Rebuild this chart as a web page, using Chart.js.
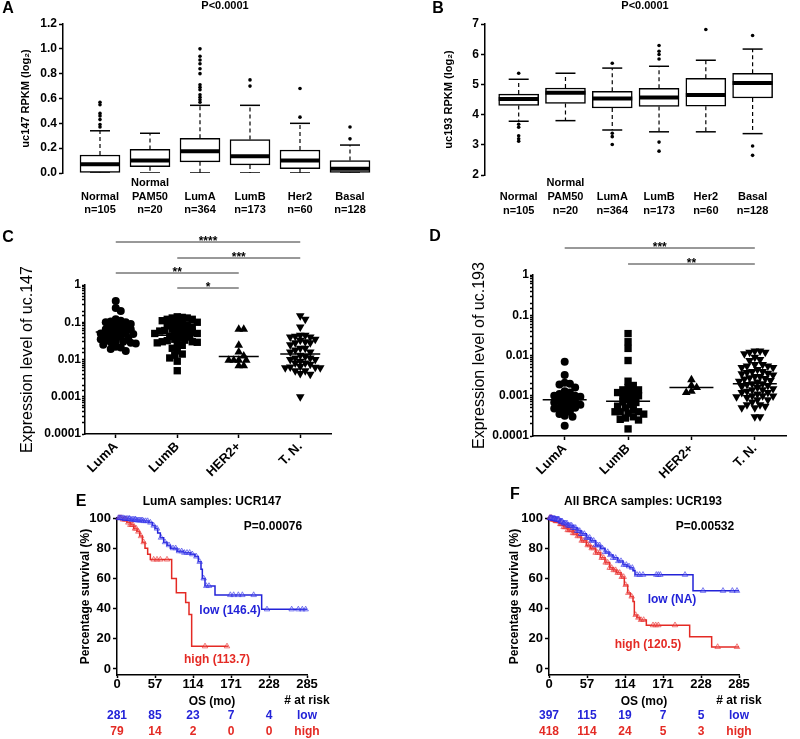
<!DOCTYPE html>
<html>
<head>
<meta charset="utf-8">
<script src="https://cdn.jsdelivr.net/npm/chart.js@4.4.1/dist/chart.umd.min.js"></script>
<style>
body { margin: 0; background: #fff; overflow: hidden; }
#fig { position: relative; width: 800px; height: 739px; overflow: hidden; background: #fff; }
#fig canvas { position: absolute; }
</style>
</head>
<body>
<div id="fig">
<canvas id="cA" width="400" height="240" style="left:0;top:0"></canvas>
<canvas id="cB" width="400" height="240" style="left:400px;top:0"></canvas>
<canvas id="cC" width="400" height="252" style="left:0;top:228px"></canvas>
<canvas id="cD" width="410" height="252" style="left:400px;top:228px"></canvas>
<canvas id="cE" width="400" height="259" style="left:0;top:480px"></canvas>
<canvas id="cF" width="400" height="259" style="left:400px;top:480px"></canvas>
</div>
<script>
// ---- values ----
var boxCats = ['Normal', 'Normal PAM50', 'LumA', 'LumB', 'Her2', 'Basal'];
var boxN = [105, 20, 364, 173, 60, 128];

// A: uc147 RPKM
var aLow = [0, 0, 0, 0, 0, 0];
var aQ1 = [0.005, 0.05, 0.09, 0.065, 0.035, 0.005];
var aMed = [0.07, 0.10, 0.175, 0.135, 0.10, 0.035];
var aQ3 = [0.145, 0.19, 0.28, 0.27, 0.185, 0.10];
var aHigh = [0.34, 0.32, 0.545, 0.545, 0.40, 0.225];
var aOut = [
    [0.37, 0.39, 0.43, 0.46, 0.48, 0.55, 0.57],
    [],
    [0.57, 0.59, 0.61, 0.63, 0.67, 0.69, 0.71, 0.80, 0.84, 0.88, 0.91, 0.94, 1.0],
    [0.70, 0.75],
    [0.45, 0.68],
    [0.275, 0.37]
];

// B: uc193 RPKM
var bLow = [3.78, 3.80, 3.49, 3.43, 3.43, 3.37];
var bQ1 = [4.30, 4.37, 4.22, 4.27, 4.28, 4.55];
var bMed = [4.52, 4.72, 4.53, 4.57, 4.65, 5.05];
var bQ3 = [4.68, 4.88, 4.77, 4.87, 5.20, 5.37];
var bHigh = [5.17, 5.37, 5.54, 5.60, 5.80, 6.17];
var bOut = [
    [5.37, 3.68, 3.58, 3.30, 3.20, 3.12],
    [],
    [5.70, 3.38, 3.27, 3.01],
    [6.29, 6.10, 5.99, 5.84, 3.09, 2.79],
    [6.82],
    [6.62, 2.96, 2.65]
];

// C / D: expression levels per subtype
var dotCats = ['LumA', 'LumB', 'HER2+', 'T. N.'];
var cLumA = [0.37, 0.24, 0.20, 0.12, 0.11, 0.105, 0.10, 0.10, 0.09, 0.085, 0.08, 0.075, 0.07, 0.065, 0.065,
    0.06, 0.058, 0.055, 0.05, 0.05, 0.048, 0.045, 0.042, 0.04, 0.04, 0.038, 0.035, 0.033, 0.03, 0.03,
    0.029, 0.028, 0.027, 0.025, 0.022, 0.021, 0.019, 0.017];
var cLumB = [0.14, 0.135, 0.13, 0.13, 0.12, 0.12, 0.11, 0.10, 0.10, 0.095, 0.09, 0.085, 0.08, 0.075, 0.07,
    0.068, 0.065, 0.06, 0.06, 0.058, 0.055, 0.052, 0.05, 0.05, 0.048, 0.045, 0.042, 0.04, 0.038, 0.035,
    0.033, 0.032, 0.03, 0.03, 0.029, 0.028, 0.025, 0.024, 0.02, 0.017, 0.014, 0.013, 0.011, 0.009, 0.005];
var cHer2 = [0.065, 0.065, 0.024, 0.016, 0.0125, 0.0095, 0.0095, 0.0095, 0.0095, 0.0068, 0.0068];
var cTn = [0.15, 0.12, 0.075, 0.045, 0.045, 0.042, 0.04, 0.04, 0.035, 0.033, 0.03, 0.028, 0.028, 0.025,
    0.02, 0.02, 0.018, 0.016, 0.016, 0.013, 0.012, 0.011, 0.011, 0.01, 0.01, 0.009, 0.008, 0.008, 0.0075,
    0.0065, 0.0063, 0.0062, 0.006, 0.006, 0.005, 0.005, 0.0042, 0.004, 0.001];
var cMean = [0.055, 0.045, 0.012, 0.014];

var dLumA = [0.007, 0.0033, 0.0021, 0.002, 0.0019, 0.0016, 0.0013, 0.0012, 0.0011, 0.001, 0.001, 0.00095,
    0.0009, 0.0008, 0.00075, 0.0007, 0.00068, 0.00065, 0.0006, 0.00055, 0.0005, 0.0005, 0.00048, 0.00045,
    0.0004, 0.00035, 0.00032, 0.0003, 0.00018];
var dLumB = [0.035, 0.022, 0.015, 0.0075, 0.0023, 0.0018, 0.0016, 0.0014, 0.0014, 0.0013, 0.0012, 0.0011,
    0.001, 0.001, 0.0009, 0.0008, 0.0007, 0.00068, 0.0006, 0.00055, 0.0005, 0.00045, 0.0004, 0.0004, 0.0004,
    0.00037, 0.00035, 0.0003, 0.00028, 0.00026, 0.00025, 0.00015];
var dHer2 = [0.0025, 0.0018, 0.0016, 0.0013, 0.0012];
var dTn = [0.013, 0.013, 0.012, 0.012, 0.011, 0.009, 0.008, 0.0075, 0.006, 0.006, 0.0055, 0.0055, 0.005,
    0.005, 0.0045, 0.004, 0.004, 0.0038, 0.0036, 0.0035, 0.0033, 0.003, 0.003, 0.0028, 0.0027, 0.0026,
    0.0024, 0.0023, 0.0022, 0.002, 0.002, 0.0019, 0.0018, 0.0017, 0.0016, 0.0015, 0.0014, 0.0014, 0.0013,
    0.0012, 0.0012, 0.0011, 0.001, 0.001, 0.00098, 0.00095, 0.0009, 0.0008, 0.0008, 0.0007, 0.0006, 0.0006,
    0.00055, 0.0005, 0.0005, 0.0003, 0.0003];
var dMean = [0.0008, 0.00073, 0.0016, 0.002];

// E / F: Kaplan-Meier steps (months, % surviving) and censor times
var kmTicks = [0, 57, 114, 171, 228, 285];
var riskTimes = [0, 57, 114, 171, 228];

var eLowT = [0, 10, 20, 30, 40, 48, 53, 57, 61, 65, 70, 75, 80, 90, 100, 110, 117, 122, 126, 128, 132, 147, 217, 285];
var eLowS = [100, 99.5, 99, 98.5, 98, 97, 95, 93, 90, 87, 84, 82, 80, 78, 77, 76, 74.5, 71, 66, 60, 55, 49, 39.5, 39.5];
var eHighT = [0, 8, 15, 20, 25, 30, 34, 38, 42, 46, 50, 82, 89, 103, 108, 112, 167];
var eHighS = [100, 99, 97, 95.5, 93, 91, 88, 84, 80, 76, 72.5, 60, 50.5, 44, 36, 15, 15];
var eLowC = [2, 4, 5, 7, 9, 11, 12, 14, 16, 18, 19, 21, 23, 25, 27, 28, 30, 32, 34, 36, 38, 40, 43, 46, 50, 55,
    60, 66, 72, 78, 84, 88, 93, 97, 101, 105, 109, 113, 119, 124, 130, 134, 138, 170, 175, 182, 188, 205, 225,
    262, 272, 278, 283];
var eHighC = [3, 6, 9, 12, 14, 17, 20, 22, 24, 27, 29, 32, 36, 40, 55, 60, 65, 75, 132, 165];
var eRiskLow = [281, 85, 23, 7, 4];
var eRiskHigh = [79, 14, 2, 0, 0];

var fLowT = [0, 5, 10, 16, 22, 28, 36, 42, 48, 56, 62, 70, 77, 84, 90, 96, 103, 111, 117, 121, 126, 129, 216, 285];
var fLowS = [100, 99.5, 99, 97.7, 96.5, 95, 93.5, 91.5, 89.5, 87, 85, 82, 80, 77.5, 75.5, 73.6, 71.5, 69, 68, 67, 65, 62.4, 51.8, 51.8];
var fHighT = [0, 5, 10, 16, 22, 28, 36, 42, 48, 56, 62, 70, 77, 84, 91, 96, 101, 108, 113, 118, 122, 126, 128, 132, 136, 146, 211, 244, 285];
var fHighS = [100, 99, 98, 96, 94, 92, 90, 88, 85, 82, 80, 77, 73.6, 70.5, 67, 65.5, 63.7, 61, 55.7, 50.4, 48, 44.7, 35.8, 34, 32.5, 29, 21.4, 14.6, 14.6];
var fLowC = [1, 2, 3, 4, 5, 6, 7, 8, 9, 10, 11, 12, 13, 14, 15, 17, 18, 19, 20, 22, 23, 25, 27, 28, 30, 32, 34,
    36, 38, 40, 42, 44, 46, 48, 50, 53, 56, 58, 61, 64, 67, 70, 73, 76, 80, 84, 88, 92, 96, 100, 104, 108, 112,
    116, 120, 125, 132, 136, 141, 161, 164, 167, 204, 231, 261, 275, 282];
var fHighC = [1, 2, 3, 4, 5, 6, 7, 8, 9, 10, 11, 12, 14, 15, 17, 18, 20, 22, 24, 26, 28, 30, 32, 34, 36, 38, 40,
    43, 46, 49, 52, 55, 58, 61, 64, 67, 70, 73, 76, 79, 82, 85, 88, 91, 94, 97, 100, 103, 106, 109, 112, 115,
    119, 124, 130, 134, 138, 142, 156, 160, 164, 189, 253, 282];
var fRiskLow = [397, 115, 19, 7, 5];
var fRiskHigh = [418, 114, 24, 5, 3];

// ---- drawing ----
Chart.defaults.font.family = 'Arial, "Liberation Sans", sans-serif';
Chart.defaults.color = '#000';
var FAM = Chart.defaults.font.family;
var BLUE = '#2323d8';
var RED = '#e42a24';

var notes = {
    id: 'notes',
    afterDraw: function (chart, args, o) {
        var ctx = chart.ctx;
        (o.items || []).forEach(function (n) {
            ctx.save();
            ctx.font = (n.weight || 'bold') + ' ' + (n.size || 12) + 'px ' + FAM;
            ctx.fillStyle = n.color || '#000';
            ctx.textAlign = n.align || 'center';
            ctx.textBaseline = 'middle';
            ctx.fillText(n.text, n.x, n.y);
            ctx.restore();
        });
    }
};

var brackets = {
    id: 'brackets',
    afterDraw: function (chart, args, o) {
        var ctx = chart.ctx, xs = chart.scales.x;
        (o.items || []).forEach(function (b) {
            var x1 = xs.getPixelForValue(b.from), x2 = xs.getPixelForValue(b.to);
            ctx.save();
            ctx.strokeStyle = '#333';
            ctx.lineWidth = 1;
            ctx.beginPath();
            ctx.moveTo(x1, b.y);
            ctx.lineTo(x2, b.y);
            ctx.stroke();
            ctx.font = 'bold 12px ' + FAM;
            ctx.fillStyle = '#000';
            ctx.textAlign = 'center';
            ctx.textBaseline = 'alphabetic';
            ctx.fillText(b.label, (x1 + x2) / 2, b.y + 3);
            ctx.restore();
        });
    }
};

var riskTable = {
    id: 'risk',
    afterDraw: function (chart, args, o) {
        var ctx = chart.ctx, xs = chart.scales.x;
        ctx.save();
        ctx.font = 'bold 12px ' + FAM;
        ctx.textAlign = 'center';
        ctx.textBaseline = 'middle';
        ctx.fillStyle = '#000';
        ctx.fillText('# at risk', xs.getPixelForValue(o.labelAt), o.headY);
        o.rows.forEach(function (r) {
            ctx.fillStyle = r.color;
            o.times.forEach(function (t, i) {
                ctx.fillText(String(r.values[i]), xs.getPixelForValue(t), r.y);
            });
            ctx.fillText(r.label, xs.getPixelForValue(o.labelAt), r.y);
        });
        ctx.restore();
    }
};

function axisGrid(len) {
    return { display: true, drawOnChartArea: false, drawTicks: true, tickLength: len, tickColor: '#000', tickWidth: 1.5 };
}

function boxChart(id, d) {
    var whisk = [], caps = [], meds = [], outs = [], boxes = [];
    d.cats.forEach(function (c, i) {
        var x = i + 1;
        boxes.push({ x: x, y: [d.q1[i], d.q3[i]] });
        meds.push({ x: x, y: d.med[i] });
        caps.push({ x: x, y: d.high[i] }, { x: x, y: d.low[i] });
        whisk.push({ x: x, y: d.q3[i] }, { x: x, y: d.high[i] }, { x: x, y: null },
            { x: x, y: d.q1[i] }, { x: x, y: d.low[i] }, { x: x, y: null });
        d.out[i].forEach(function (v) { outs.push({ x: x, y: v }); });
    });
    return new Chart(document.getElementById(id), {
        type: 'bar',
        data: {
            datasets: [
                { type: 'scatter', data: meds, pointStyle: 'line', pointRadius: 20, pointBorderWidth: 4, pointBorderColor: '#000', order: 0 },
                { type: 'scatter', data: caps, pointStyle: 'line', pointRadius: 10, pointBorderWidth: 1.5, pointBorderColor: '#000', order: 1 },
                { type: 'scatter', data: outs, pointRadius: 1.8, pointBackgroundColor: '#000', pointBorderWidth: 0, order: 1 },
                { type: 'bar', data: boxes, backgroundColor: '#fff', borderColor: '#000', borderWidth: 1.5, borderSkipped: false, barThickness: 40, order: 2 },
                { type: 'line', data: whisk, borderColor: '#000', borderWidth: 1.2, borderDash: [4, 3], pointRadius: 0, spanGaps: false, order: 3 }
            ]
        },
        plugins: [notes],
        options: {
            responsive: false,
            animation: false,
            events: [],
            layout: { padding: d.pad },
            plugins: { legend: { display: false }, tooltip: { enabled: false }, notes: { items: d.notes } },
            scales: {
                x: {
                    type: 'linear', min: d.xMin, max: 6.5, offset: false,
                    afterBuildTicks: function (s) { s.ticks = d.cats.map(function (c, i) { return { value: i + 1 }; }); },
                    afterFit: function (s) { s.height = d.xH; },
                    grid: { display: false, drawTicks: false },
                    border: { display: false },
                    ticks: {
                        autoSkip: false, maxRotation: 0, padding: d.labPad,
                        font: { size: 11, weight: 'bold', lineHeight: 1.25 },
                        callback: function (v) {
                            var i = Math.round(v) - 1, w = d.cats[i].split(' ');
                            if (w.length < 2) w.unshift('');
                            return w.concat(['n=' + d.n[i]]);
                        }
                    }
                },
                y: {
                    min: d.yMin, max: d.yMax,
                    afterFit: function (s) { s.width = d.yW; },
                    ticks: { stepSize: d.step, padding: 2, font: { size: 12, weight: 'bold' },
                        callback: function (v) { return v.toFixed(d.dec); } },
                    grid: axisGrid(4),
                    border: { color: '#000', width: 1.5 },
                    title: { display: true, text: d.yTitle, font: { size: 11, weight: 'bold' }, padding: { top: d.titlePad } }
                }
            }
        }
    });
}

// simple beeswarm: place each point at the nearest free horizontal offset
function swarm(vals, center, pxX, pxDec, dia) {
    var idx = vals.map(function (v, i) { return i; }).sort(function (a, b) { return vals[b] - vals[a]; });
    var placed = [], out = [];
    idx.forEach(function (i) {
        var py = Math.log10(vals[i]) * pxDec, dx = 0;
        for (var k = 0; k < 60; k++) {
            dx = (k % 2 ? 1 : -1) * Math.ceil(k / 2) * dia / 2;
            var hit = placed.some(function (p) {
                var a = p.dx - dx, b = p.py - py;
                return a * a + b * b < dia * dia;
            });
            if (!hit) break;
        }
        placed.push({ dx: dx, py: py });
        out.push({ x: center + dx / pxX, y: vals[i] });
    });
    return out;
}

function logLabel(v) {
    var e = Math.log10(v);
    return Math.abs(e - Math.round(e)) < 1e-6 ? String(Number(v.toPrecision(1))) : '';
}

function dotChart(id, d) {
    var styles = [
        { s: 'circle', r: 4, rot: 0 },
        { s: 'rect', r: 5.2, rot: 0 },
        { s: 'triangle', r: 5, rot: 0 },
        { s: 'triangle', r: 5, rot: 180 }
    ];
    var sets = d.groups.map(function (g, i) {
        return {
            type: 'scatter', data: swarm(g, i + 1, d.pxX, d.pxDec, d.dia),
            pointStyle: styles[i].s, pointRadius: styles[i].r, pointRotation: styles[i].rot,
            pointBackgroundColor: '#000', pointBorderWidth: 0, order: 1, clip: false
        };
    });
    sets.unshift({
        type: 'scatter', data: d.mean.map(function (m, i) { return { x: i + 1, y: m }; }),
        pointStyle: 'line', pointRadius: d.meanR, pointBorderWidth: 1.5, pointBorderColor: '#000', order: 0
    });
    return new Chart(document.getElementById(id), {
        type: 'scatter',
        data: { datasets: sets },
        plugins: [notes, brackets],
        options: {
            responsive: false,
            animation: false,
            events: [],
            layout: { padding: d.pad },
            plugins: { legend: { display: false }, tooltip: { enabled: false },
                notes: { items: d.notes }, brackets: { items: d.brackets } },
            scales: {
                x: {
                    type: 'linear', min: 0.5, max: 4.5,
                    afterBuildTicks: function (s) { s.ticks = dotCats.map(function (c, i) { return { value: i + 1 }; }); },
                    afterFit: function (s) { s.height = d.xH; },
                    grid: axisGrid(4),
                    border: { color: '#000', width: 1.5 },
                    ticks: { autoSkip: false, minRotation: 45, maxRotation: 45, padding: 1,
                        font: { size: 13, weight: 'bold' },
                        callback: function (v) { return dotCats[Math.round(v) - 1]; } }
                },
                y: {
                    type: 'logarithmic', min: 0.0001, max: 1,
                    afterFit: function (s) { s.width = d.yW; },
                    grid: axisGrid(3),
                    border: { color: '#000', width: 1.5 },
                    ticks: { autoSkip: false, padding: 1, font: { size: 12, weight: 'bold' }, callback: logLabel },
                    title: { display: true, text: d.yTitle, font: { size: 16, weight: 'normal' }, padding: { top: d.titlePad } }
                }
            }
        }
    });
}

function survAt(ts, ss, t) {
    var s = ss[0];
    for (var i = 0; i < ts.length; i++) if (ts[i] <= t) s = ss[i];
    return s;
}

function kmChart(id, d) {
    function steps(ts, ss) { return ts.map(function (t, i) { return { x: t, y: ss[i] }; }); }
    function cens(cs, ts, ss) { return cs.map(function (t) { return { x: t, y: survAt(ts, ss, t) }; }); }
    return new Chart(document.getElementById(id), {
        type: 'line',
        data: {
            datasets: [
                { data: cens(d.lowC, d.lowT, d.lowS), type: 'scatter', pointStyle: 'triangle', pointRadius: 3.2,
                    pointBorderColor: 'rgba(40,40,230,0.55)', pointBackgroundColor: 'rgba(140,140,255,0.25)', pointBorderWidth: 1, clip: false, order: 0 },
                { data: cens(d.highC, d.highT, d.highS), type: 'scatter', pointStyle: 'triangle', pointRadius: 3.2,
                    pointBorderColor: 'rgba(230,40,40,0.55)', pointBackgroundColor: 'rgba(255,140,140,0.25)', pointBorderWidth: 1, clip: false, order: 0 },
                { data: steps(d.lowT, d.lowS), stepped: true, borderColor: BLUE, borderWidth: 1.5, pointRadius: 0, clip: false, order: 1 },
                { data: steps(d.highT, d.highS), stepped: true, borderColor: RED, borderWidth: 1.5, pointRadius: 0, clip: false, order: 1 }
            ]
        },
        plugins: [notes, riskTable],
        options: {
            responsive: false,
            animation: false,
            events: [],
            layout: { padding: d.pad },
            plugins: {
                legend: { display: false }, tooltip: { enabled: false },
                notes: { items: d.notes },
                risk: {
                    times: riskTimes, labelAt: 285, headY: 221,
                    rows: [
                        { values: d.riskLow, label: 'low', color: BLUE, y: 236 },
                        { values: d.riskHigh, label: 'high', color: RED, y: 252 }
                    ]
                }
            },
            scales: {
                x: {
                    type: 'linear', min: 0, max: 285,
                    afterBuildTicks: function (s) { s.ticks = kmTicks.map(function (v) { return { value: v }; }); },
                    afterFit: function (s) { s.height = 64; },
                    grid: axisGrid(3),
                    border: { color: '#000', width: 1.5 },
                    ticks: { autoSkip: false, maxRotation: 0, padding: 0, font: { size: 13, weight: 'bold', lineHeight: 1 } },
                    title: { display: true, text: 'OS (mo)', font: { size: 12, weight: 'bold' }, padding: { top: 0, bottom: 30 } }
                },
                y: {
                    min: -4, max: 100,
                    afterBuildTicks: function (s) { s.ticks = [0, 20, 40, 60, 80, 100].map(function (v) { return { value: v }; }); },
                    afterFit: function (s) { s.width = d.yW; },
                    grid: axisGrid(4),
                    border: { color: '#000', width: 1.5 },
                    ticks: { padding: 2, font: { size: 13, weight: 'bold' } },
                    title: { display: true, text: 'Percentage survival (%)', font: { size: 12, weight: 'bold' }, padding: { top: d.titlePad } }
                }
            }
        }
    });
}

boxChart('cA', {
    cats: boxCats, n: boxN, low: aLow, q1: aQ1, med: aMed, q3: aQ3, high: aHigh, out: aOut,
    yMin: 0, yMax: 1.2, step: 0.2, dec: 1, xMin: 0.26,
    pad: { left: 0, top: 21, right: 25, bottom: 0 }, yW: 63, xH: 67, labPad: 3, titlePad: 19,
    yTitle: 'uc147 RPKM (log\u2082)',
    notes: [{ text: 'A', x: 8, y: 9, size: 16 }, { text: 'P<0.0001', x: 225, y: 6, size: 11 }]
});

boxChart('cB', {
    cats: boxCats, n: boxN, low: bLow, q1: bQ1, med: bMed, q3: bQ3, high: bHigh, out: bOut,
    yMin: 2, yMax: 7, step: 1, dec: 0, xMin: 0.28,
    pad: { left: 0, top: 22, right: 5, bottom: 0 }, yW: 85, xH: 65, labPad: 1.5, titlePad: 42,
    yTitle: 'uc193 RPKM (log\u2082)',
    notes: [{ text: 'B', x: 38, y: 9, size: 16 }, { text: 'P<0.0001', x: 245, y: 6, size: 11 }]
});

dotChart('cC', {
    groups: [cLumA, cLumB, cHer2, cTn], mean: cMean, meanR: 20,
    pxX: 61.5, pxDec: 37.25, dia: 5,
    pad: { left: 0, top: 57, right: 69, bottom: 0 }, yW: 85, xH: 46, titlePad: 18,
    yTitle: 'Expression level of uc.147',
    notes: [{ text: 'C', x: 8, y: 10, size: 16 }],
    brackets: [
        { from: 1, to: 4, label: '****', y: 14 },
        { from: 2, to: 4, label: '***', y: 30 },
        { from: 1, to: 3, label: '**', y: 45 },
        { from: 2, to: 3, label: '*', y: 60 }
    ]
});

dotChart('cD', {
    groups: [dLumA, dLumB, dHer2, dTn], mean: dMean, meanR: 22,
    pxX: 66.75, pxDec: 40.25, dia: 5.5,
    pad: { left: 0, top: 47, right: 10, bottom: 0 }, yW: 133, xH: 44, titlePad: 70,
    yTitle: 'Expression level of uc.193',
    notes: [{ text: 'D', x: 35, y: 9, size: 16 }],
    brackets: [
        { from: 1, to: 4, label: '***', y: 20 },
        { from: 2, to: 4, label: '**', y: 36 }
    ]
});

kmChart('cE', {
    lowT: eLowT, lowS: eLowS, highT: eHighT, highS: eHighS, lowC: eLowC, highC: eHighC,
    riskLow: eRiskLow, riskHigh: eRiskHigh,
    pad: { left: 0, top: 38, right: 93, bottom: 0 }, yW: 117, titlePad: 78,
    notes: [
        { text: 'E', x: 81, y: 22, size: 16 },
        { text: 'LumA samples: UCR147', x: 212, y: 22 },
        { text: 'P=0.00076', x: 273, y: 47 },
        { text: 'low (146.4)', x: 230, y: 131, color: BLUE },
        { text: 'high (113.7)', x: 217, y: 180, color: RED }
    ]
});

kmChart('cF', {
    lowT: fLowT, lowS: fLowS, highT: fHighT, highS: fHighS, lowC: fLowC, highC: fHighC,
    riskLow: fRiskLow, riskHigh: fRiskHigh,
    pad: { left: 0, top: 38, right: 61, bottom: 0 }, yW: 149, titlePad: 107,
    notes: [
        { text: 'F', x: 115, y: 15, size: 16 },
        { text: 'All BRCA samples: UCR193', x: 243, y: 22 },
        { text: 'P=0.00532', x: 305, y: 47 },
        { text: 'low (NA)', x: 272, y: 120, color: BLUE },
        { text: 'high (120.5)', x: 248, y: 165, color: RED }
    ]
});
</script>
</body>
</html>
